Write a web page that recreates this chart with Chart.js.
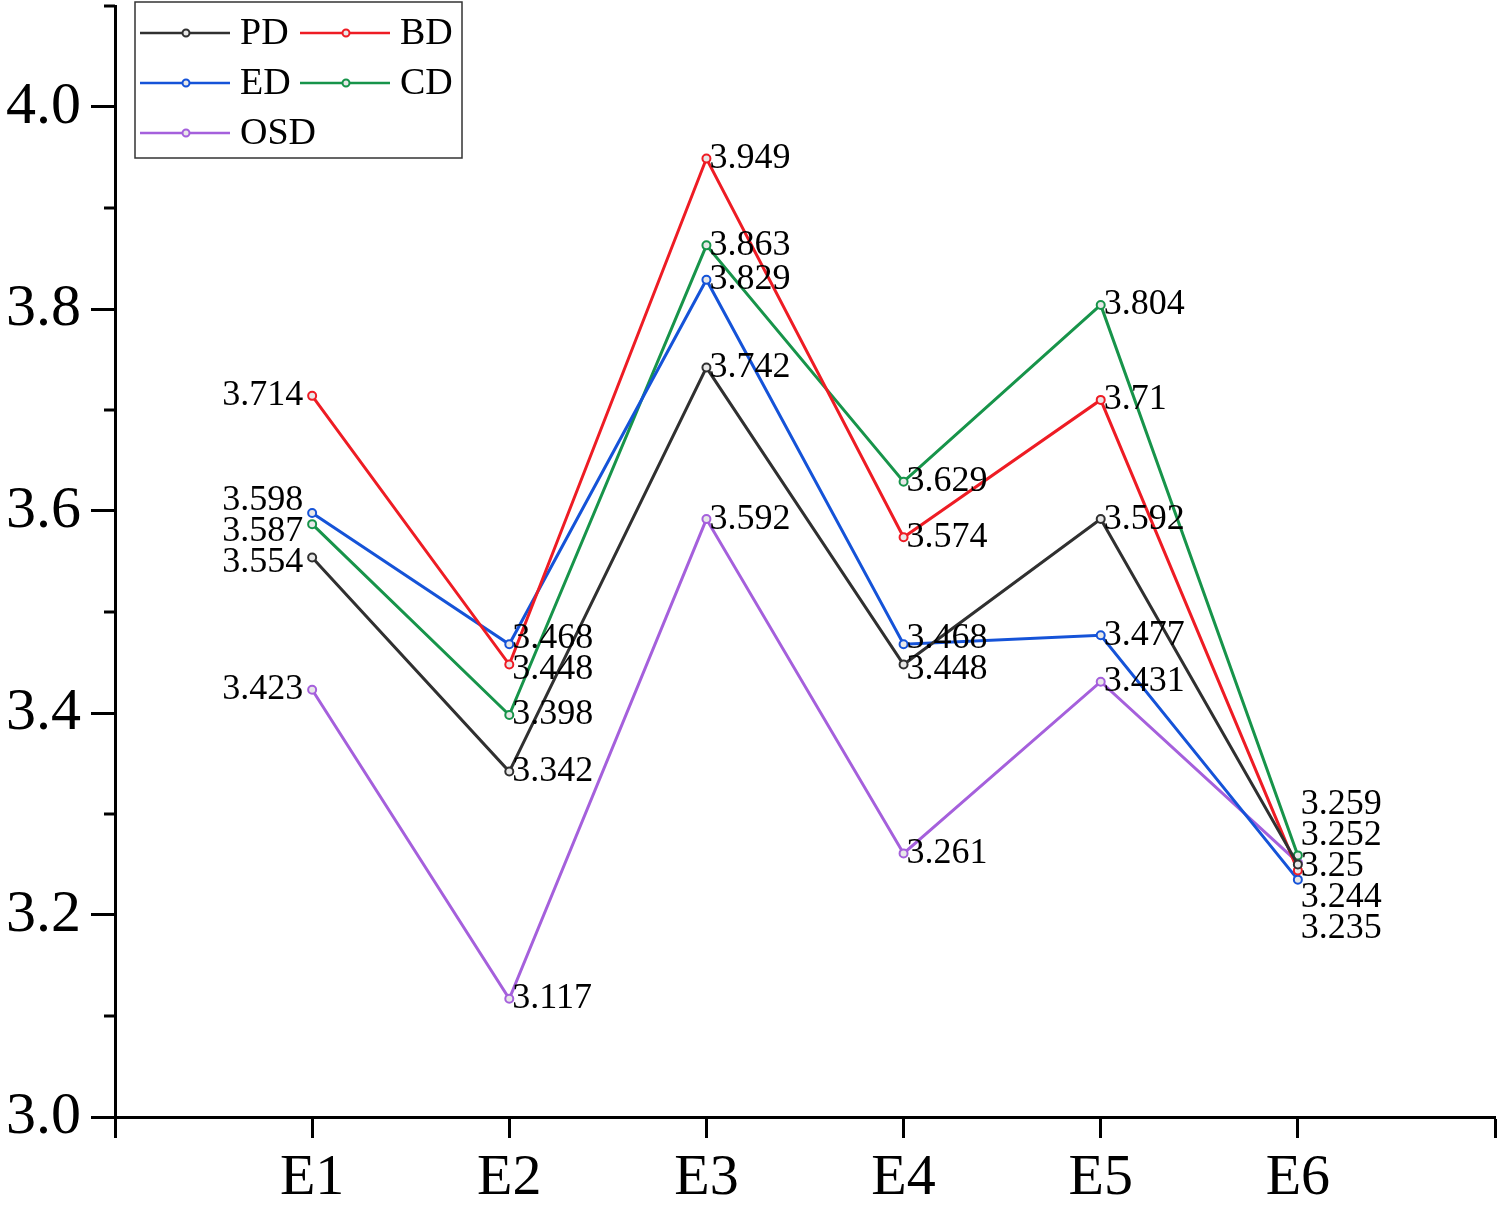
<!DOCTYPE html>
<html>
<head>
<meta charset="utf-8">
<script src="https://cdn.jsdelivr.net/npm/chart.js@4.4.1/dist/chart.umd.min.js"></script>
<style>
  html, body { margin: 0; padding: 0; background: #fff; }
  #wrap { width: 1502px; height: 1207px; }
</style>
</head>
<body>
<div id="wrap"><canvas id="myCanvas" width="1502" height="1207"></canvas></div>
<script>
// data
var categories = ['E1', 'E2', 'E3', 'E4', 'E5', 'E6'];
var seriesNames = ['PD', 'BD', 'ED', 'CD', 'OSD'];
var pd  = [3.554, 3.342, 3.742, 3.448, 3.592, 3.25];
var bd  = [3.714, 3.448, 3.949, 3.574, 3.71, 3.244];
var ed  = [3.598, 3.468, 3.829, 3.468, 3.477, 3.235];
var cd  = [3.587, 3.398, 3.863, 3.629, 3.804, 3.259];
var osd = [3.423, 3.117, 3.592, 3.261, 3.431, 3.252];
var yTickLabels = ['3.0', '3.2', '3.4', '3.6', '3.8', '4.0'];

var colors = ['#303030', '#ee1c24', '#1553d8', '#17944a', '#a560dc'];
var FONT = '"Liberation Serif", "Times New Roman", serif';

function toPoints(arr) {
    var out = [];
    for (var i = 0; i < arr.length; i++) {
        out.push({x: i + 1, y: arr[i]});
    }
    return out;
}

var allSeries = [pd, bd, ed, cd, osd];
var datasets = [];
for (var s = 0; s < allSeries.length; s++) {
    datasets.push({
        label: seriesNames[s],
        data: toPoints(allSeries[s]),
        borderColor: colors[s],
        backgroundColor: colors[s],
        borderWidth: 3,
        pointRadius: 4,
        pointBorderWidth: 2,
        pointBorderColor: colors[s],
        pointBackgroundColor: '#e8e8e8',
        tension: 0
    });
}

// value labels next to each point, pushed apart when they would overlap
var valueLabels = {
    id: 'valueLabels',
    afterDatasetsDraw: function(chart) {
        var ctx = chart.ctx;
        var gap = 31;
        ctx.save();
        ctx.font = '36px ' + FONT;
        ctx.fillStyle = '#000';
        ctx.textBaseline = 'middle';
        for (var i = 0; i < categories.length; i++) {
            var items = [];
            for (var d = 0; d < chart.data.datasets.length; d++) {
                var el = chart.getDatasetMeta(d).data[i];
                items.push({x: el.x, y: el.y, ly: el.y, text: String(allSeries[d][i])});
            }
            items.sort(function(a, b) { return a.y - b.y; });
            for (var it = 0; it < 80; it++) {
                for (var k = 0; k < items.length - 1; k++) {
                    var diff = items[k + 1].ly - items[k].ly;
                    if (diff < gap) {
                        var push = (gap - diff) / 2;
                        items[k].ly -= push;
                        items[k + 1].ly += push;
                    }
                }
            }
            for (var k = 0; k < items.length; k++) {
                if (i === 0) {
                    ctx.textAlign = 'right';
                    ctx.fillText(items[k].text, items[k].x - 9, items[k].ly);
                } else {
                    ctx.textAlign = 'left';
                    ctx.fillText(items[k].text, items[k].x + 3, items[k].ly);
                }
            }
        }
        ctx.restore();
    }
};

// short minor ticks on the y axis
var minorTicks = {
    id: 'minorTicks',
    afterDraw: function(chart) {
        var ctx = chart.ctx;
        var y = chart.scales.y;
        ctx.save();
        ctx.strokeStyle = '#000';
        ctx.lineWidth = 3;
        for (var v = 31; v <= 41; v += 2) {
            var py = y.getPixelForValue(v / 10);
            ctx.beginPath();
            ctx.moveTo(y.right - 11, py);
            ctx.lineTo(y.right, py);
            ctx.stroke();
        }
        ctx.restore();
    }
};

// legend box: two columns, three rows
var boxLegend = {
    id: 'boxLegend',
    afterDraw: function(chart) {
        var ctx = chart.ctx;
        var area = chart.chartArea;
        var left = area.left + 20;
        var top = 2;
        ctx.save();
        ctx.strokeStyle = '#333';
        ctx.lineWidth = 1.5;
        ctx.strokeRect(left, top, 327, 156);
        ctx.font = '38px ' + FONT;
        ctx.textBaseline = 'middle';
        ctx.textAlign = 'left';
        for (var d = 0; d < chart.data.datasets.length; d++) {
            var ds = chart.data.datasets[d];
            var col = d % 2;
            var row = Math.floor(d / 2);
            var lx = left + 5 + col * 160;
            var ly = top + 31 + row * 50;
            ctx.strokeStyle = ds.borderColor;
            ctx.lineWidth = 2.5;
            ctx.beginPath();
            ctx.moveTo(lx, ly);
            ctx.lineTo(lx + 90, ly);
            ctx.stroke();
            ctx.beginPath();
            ctx.arc(lx + 46, ly, 3.5, 0, Math.PI * 2);
            ctx.fillStyle = '#e8e8e8';
            ctx.fill();
            ctx.lineWidth = 2;
            ctx.stroke();
            ctx.fillStyle = '#000';
            ctx.fillText(ds.label, lx + 100, ly + 1);
        }
        ctx.restore();
    }
};

var ctx = document.getElementById('myCanvas').getContext('2d');
var chart = new Chart(ctx, {
    type: 'line',
    data: { datasets: datasets },
    options: {
        responsive: false,
        animation: false,
        layout: { padding: { top: 6, right: 7, left: 0, bottom: 0 } },
        plugins: {
            legend: { display: false },
            tooltip: { enabled: false }
        },
        scales: {
            x: {
                type: 'linear',
                min: 0,
                max: 7,
                afterBuildTicks: function(scale) {
                    var t = [];
                    for (var v = 0; v <= 7; v++) t.push({value: v});
                    scale.ticks = t;
                },
                afterFit: function(scale) {
                    scale.height = 90;
                    scale.paddingLeft = 0;
                    scale.paddingRight = 0;
                },
                ticks: {
                    autoSkip: false,
                    maxRotation: 0,
                    padding: 6,
                    color: '#000',
                    font: { family: FONT, size: 58 },
                    callback: function(v) {
                        return (v >= 1 && v <= 6) ? categories[v - 1] : '';
                    }
                },
                grid: {
                    drawOnChartArea: false,
                    drawTicks: true,
                    tickLength: 21,
                    tickWidth: 3,
                    tickColor: '#000'
                },
                border: { display: true, color: '#000', width: 3 }
            },
            y: {
                min: 3.0,
                max: 4.1,
                afterFit: function(scale) {
                    scale.width = 115;
                    scale.paddingTop = 0;
                    scale.paddingBottom = 0;
                },
                ticks: {
                    stepSize: 0.2,
                    includeBounds: false,
                    padding: 10,
                    color: '#000',
                    font: { family: FONT, size: 60 },
                    callback: function(v) {
                        var idx = Math.round((v - 3.0) * 5);
                        return yTickLabels[idx] || '';
                    }
                },
                grid: {
                    drawOnChartArea: false,
                    drawTicks: true,
                    tickLength: 24,
                    tickWidth: 3,
                    tickColor: '#000'
                },
                border: { display: true, color: '#000', width: 3 }
            }
        }
    },
    plugins: [valueLabels, minorTicks, boxLegend]
});
</script>
</body>
</html>
